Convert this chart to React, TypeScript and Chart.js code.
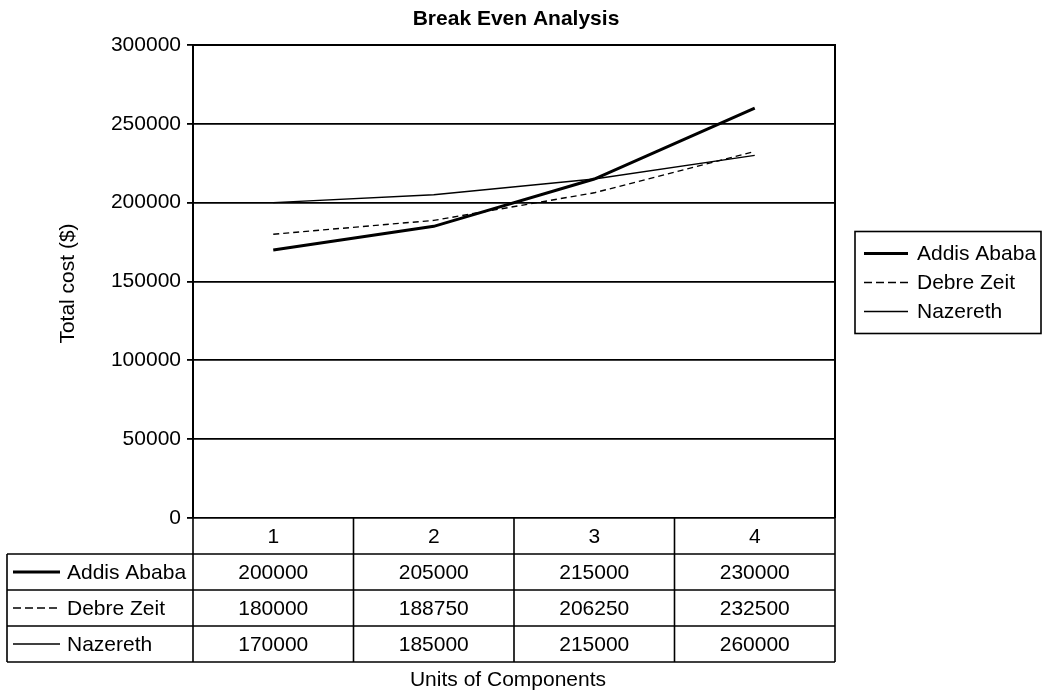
import React, { useEffect, useRef } from 'react';
import { Chart, registerables } from 'chart.js';

Chart.register(...registerables);

// Units of components on the x axis
const categories = ['1', '2', '3', '4'];
// Row names of the data table / legend, in display order
const seriesNames = ['Addis Ababa', 'Debre Zeit', 'Nazereth'];
// Total cost ($) per site, as listed in the data table
const addisAbaba = [200000, 205000, 215000, 230000];
const debreZeit = [180000, 188750, 206250, 232500];
const nazereth = [170000, 185000, 215000, 260000];
const tableRows = [addisAbaba, debreZeit, nazereth];

const yMin = 0;
const yMax = 300000;
const yStep = 50000;

const FONT = '"Liberation Sans", Arial, Helvetica, sans-serif';
const FONT_SIZE = 21;
const INK = '#000000';

// Key line styles for the legend and table, same order as seriesNames
const keyStyles = [
  { width: 3, dash: [] as number[] },
  { width: 1.4, dash: [8, 4] },
  { width: 1.4, dash: [] as number[] },
];

function drawKey(ctx: CanvasRenderingContext2D, x0: number, x1: number, y: number, idx: number) {
  const s = keyStyles[idx];
  ctx.save();
  ctx.strokeStyle = INK;
  ctx.lineWidth = s.width;
  ctx.setLineDash(s.dash);
  ctx.beginPath();
  ctx.moveTo(x0, y);
  ctx.lineTo(x1, y);
  ctx.stroke();
  ctx.restore();
}

const decorations = {
  id: 'breakEvenDecorations',
  afterDraw(chart: any) {
    const ctx: CanvasRenderingContext2D = chart.ctx;
    const { left, right, top, bottom } = chart.chartArea;
    const colW = (right - left) / categories.length;

    ctx.save();
    ctx.strokeStyle = INK;
    ctx.fillStyle = INK;

    // top and right edges of the plot frame
    ctx.lineWidth = 2;
    ctx.beginPath();
    ctx.moveTo(left, top);
    ctx.lineTo(right, top);
    ctx.lineTo(right, bottom);
    ctx.stroke();

    // data table under the plot
    const rowH = 36;
    const tableLeft = 7;
    const tableBottom = bottom + rowH * (tableRows.length + 1);
    ctx.lineWidth = 1.6;
    ctx.beginPath();
    for (let r = 1; r <= tableRows.length + 1; r++) {
      const y = bottom + r * rowH;
      ctx.moveTo(tableLeft, y);
      ctx.lineTo(right, y);
    }
    for (let c = 0; c <= categories.length; c++) {
      const x = left + c * colW;
      ctx.moveTo(x, bottom);
      ctx.lineTo(x, tableBottom);
    }
    ctx.moveTo(tableLeft, bottom + rowH);
    ctx.lineTo(tableLeft, tableBottom);
    ctx.stroke();

    ctx.font = `${FONT_SIZE}px ${FONT}`;
    ctx.textBaseline = 'middle';
    ctx.textAlign = 'center';
    categories.forEach((c, i) => {
      ctx.fillText(c, left + colW * (i + 0.5), bottom + rowH / 2 + 1);
    });
    tableRows.forEach((row, r) => {
      const yc = bottom + rowH * (r + 1.5) + 1;
      drawKey(ctx, tableLeft + 6, tableLeft + 53, yc - 1, r);
      ctx.textAlign = 'left';
      ctx.fillText(seriesNames[r], 67, yc);
      ctx.textAlign = 'center';
      row.forEach((v, i) => {
        ctx.fillText(String(v), left + colW * (i + 0.5), yc);
      });
    });

    // legend box
    const lgLeft = 855;
    const lgRight = 1041;
    const lgMid = (top + bottom) / 2 + 1;
    const lgStep = 29;
    const lgTop = lgMid - 51;
    const lgBottom = lgMid + 51;
    ctx.lineWidth = 1.6;
    ctx.strokeRect(lgLeft, lgTop, lgRight - lgLeft, lgBottom - lgTop);
    ctx.textAlign = 'left';
    seriesNames.forEach((name, i) => {
      const yc = lgMid + (i - 1) * lgStep;
      drawKey(ctx, 864, 908, yc, i);
      ctx.fillText(name, 917, yc + 1);
    });

    // chart title
    ctx.font = `bold ${FONT_SIZE}px ${FONT}`;
    ctx.textAlign = 'center';
    ctx.fillText('Break Even Analysis', (left + right) / 2 + 2, 19);

    // axis titles
    ctx.font = `${FONT_SIZE}px ${FONT}`;
    ctx.fillText('Units of Components', (left + right) / 2 - 6, 680);
    ctx.save();
    ctx.translate(68, (top + bottom) / 2 + 2);
    ctx.rotate(-Math.PI / 2);
    ctx.fillText('Total cost ($)', 0, 0);
    ctx.restore();

    ctx.restore();
  },
};

export default function App() {
  const canvasRef = useRef<HTMLCanvasElement | null>(null);

  useEffect(() => {
    const canvas = canvasRef.current;
    if (!canvas) return;
    const chart = new Chart(canvas, {
      type: 'line',
      data: {
        labels: categories,
        datasets: [
          {
            label: 'Nazereth',
            data: nazereth,
            borderColor: INK,
            borderWidth: 3,
            pointRadius: 0,
            tension: 0,
            fill: false,
          },
          {
            label: 'Debre Zeit',
            data: debreZeit,
            borderColor: INK,
            borderWidth: 1.4,
            borderDash: [6, 4],
            pointRadius: 0,
            tension: 0,
            fill: false,
          },
          {
            label: 'Addis Ababa',
            data: addisAbaba,
            borderColor: INK,
            borderWidth: 1.4,
            pointRadius: 0,
            tension: 0,
            fill: false,
          },
        ],
      },
      options: {
        responsive: false,
        animation: false,
        events: [],
        layout: { padding: { top: 45, left: 0, right: 215, bottom: 175 } },
        plugins: {
          legend: { display: false },
          title: { display: false },
          tooltip: { enabled: false },
        },
        scales: {
          x: { type: 'category', offset: true, display: false },
          y: {
            min: yMin,
            max: yMax,
            ticks: {
              stepSize: yStep,
              color: INK,
              padding: 6,
              font: { family: FONT, size: FONT_SIZE },
              callback: (v: any) => String(v),
            },
            grid: { color: INK, lineWidth: 1.8, tickLength: 6, drawTicks: true },
            border: { display: true, color: INK, width: 2 },
            afterFit: (scale: any) => {
              scale.width = 193;
            },
          },
        },
      },
      plugins: [decorations],
    });
    return () => chart.destroy();
  }, []);

  return (
    <div style={{ position: 'absolute', left: 0, top: 0, width: 1050, height: 693, background: '#fff' }}>
      <canvas ref={canvasRef} width={1050} height={693} style={{ display: 'block' }} />
    </div>
  );
}
